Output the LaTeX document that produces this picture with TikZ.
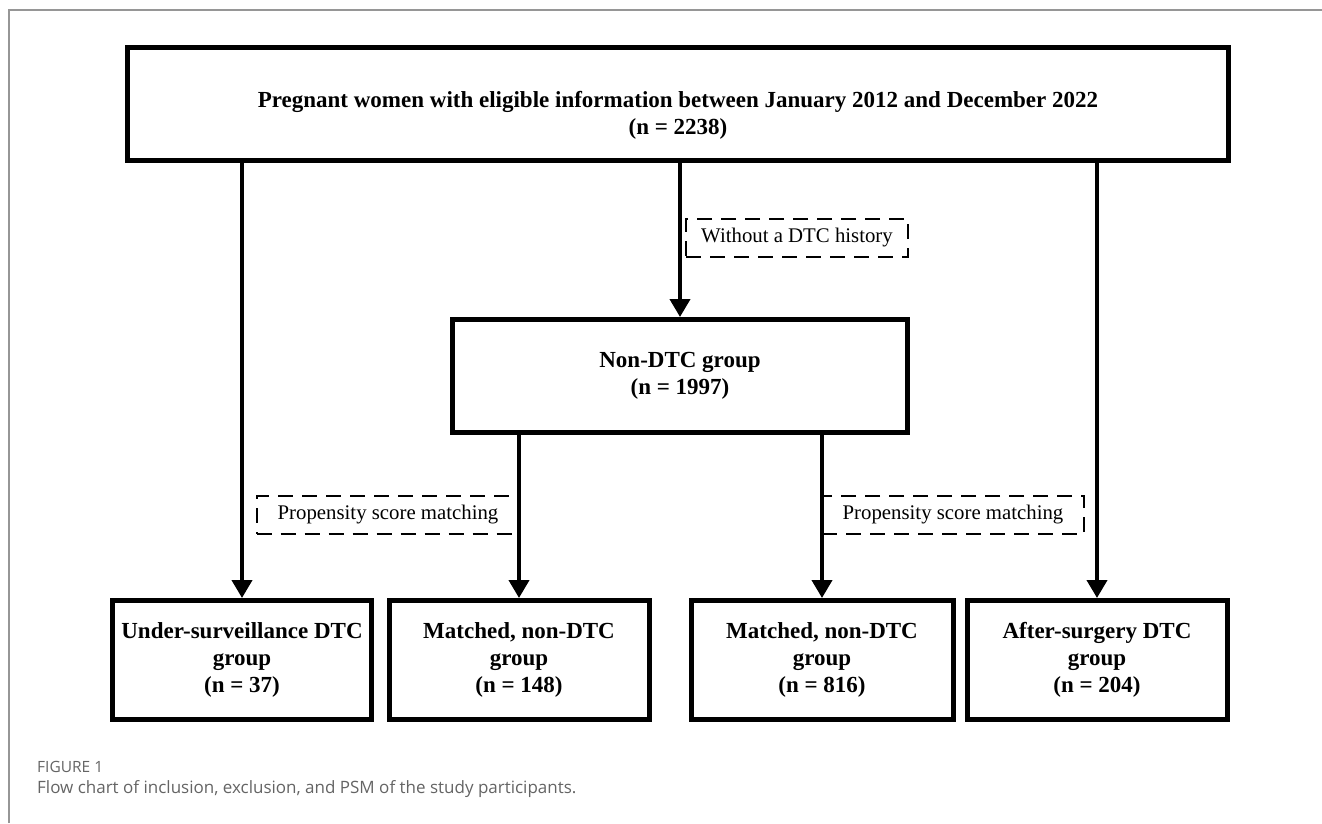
\documentclass[tikz,border=0pt]{standalone}
\usepackage{fontspec}
\setmainfont{Liberation Serif}
\newfontfamily\captionfont{Open Sans}
\usepackage{tikz}
\usetikzlibrary{arrows.meta,positioning}
\definecolor{framegray}{RGB}{150,150,150}
\definecolor{capgray}{RGB}{100,100,100}

\tikzset{
	groupbox/.style = {draw, line width=5pt, align=center, inner sep=0pt,
		font=\fontsize{23}{27}\selectfont\bfseries},
	notebox/.style = {draw, dash pattern=on 15pt off 9pt, line width=2pt,
		inner sep=0pt, minimum height=38pt, font=\fontsize{20.8}{24}\selectfont},
	flowarrow/.style = {line width=4pt, -{Triangle[length=18pt,width=20pt]}}
}

\begin{document}
\begin{tikzpicture}[x=1pt, y=-1pt]
	\useasboundingbox (0,0) rectangle (1322,823);
	\draw [framegray, line width=1.5pt] (9,823) -- (9,10) -- (1322,10);
	
	% boxes
	\node [groupbox, minimum width=1101pt, minimum height=113pt] (all) at (678,104)
		{\rule{0pt}{38pt}Pregnant women with eligible information between January 2012 and December 2022\\ (n = 2238)};
	\node [groupbox, minimum width=455pt, minimum height=113pt] (nondtc) at (680,376)
		{Non-DTC group\\ (n = 1997)};
	\node [groupbox, minimum width=259pt, minimum height=119pt] (surv) at (242,660)
		{Under-surveillance DTC\\ group\\ (n = 37)};
	\node [groupbox, minimum width=260pt, minimum height=119pt] (matchA) at (519,660)
		{Matched, non-DTC\\ group\\ (n = 148)};
	\node [groupbox, minimum width=262pt, minimum height=119pt] (matchB) at (822,660)
		{Matched, non-DTC\\ group\\ (n = 816)};
	\node [groupbox, minimum width=260pt, minimum height=119pt] (surg) at (1097,660)
		{After-surgery DTC\\ group\\ (n = 204)};
	
	% dashed notes
	\node [notebox, minimum width=222pt] (nohist) at (797,238) {Without a DTC history};
	\node [notebox, minimum width=263pt] (psmA) at (388,515) {Propensity score matching};
	\node [notebox, minimum width=262pt] (psmB) at (953,515) {Propensity score matching};
	
	% arrows
	\draw [flowarrow] (surv.north |- all.south) -- (surv.north);
	\draw [flowarrow] (nondtc.north |- all.south) -- (nondtc.north);
	\draw [flowarrow] (surg.north |- all.south) -- (surg.north);
	\draw [flowarrow] (matchA.north |- nondtc.south) -- (matchA.north);
	\draw [flowarrow] (matchB.north |- nondtc.south) -- (matchB.north);
	
	% caption
	\node [anchor=west, inner sep=0pt, text=capgray, font=\captionfont\fontsize{15.5}{18}\selectfont] (figno) at (37,767) {FIGURE 1};
	\node [anchor=west, inner sep=0pt, text=capgray, font=\captionfont\fontsize{17}{20}\selectfont] (figtext) at (37,789)
		{Flow chart of inclusion, exclusion, and PSM of the study participants.};
\end{tikzpicture}
\end{document}
